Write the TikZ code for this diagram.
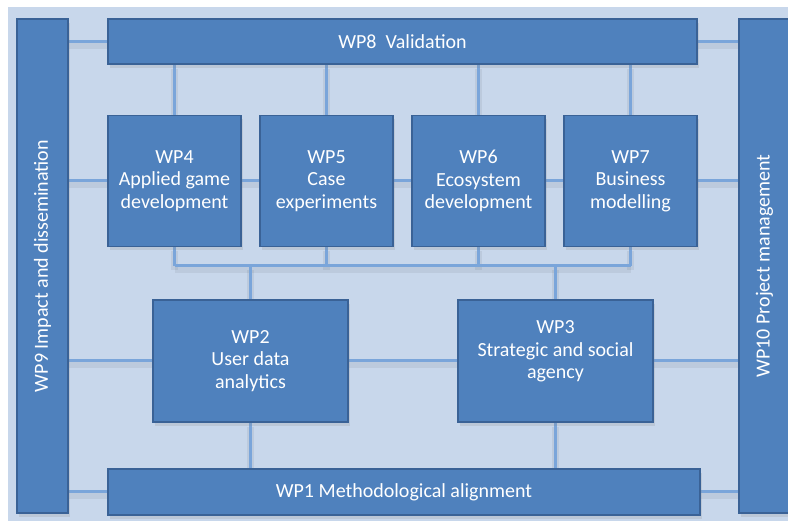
\documentclass[tikz,border=0pt]{standalone}
\usepackage{fontspec}
\setmainfont{Carlito}
\usepackage{xcolor}
\usepackage{tikz}
\usetikzlibrary{shadows,backgrounds}

\definecolor{wpblue}{HTML}{4F81BD}
\definecolor{wpedge}{HTML}{3A6296}
\definecolor{wpline}{HTML}{7AA5DA}
\definecolor{wppanel}{HTML}{C8D7EB}

\begin{document}
\begin{tikzpicture}[x=1pt, y=-1pt, node distance=152pt,
	font=\fontsize{20}{22.5}\selectfont]

	\tikzstyle{wp}=[rectangle, draw=wpedge, line width=1.5pt, fill=wpblue, text=white,
		align=center, inner sep=0pt,
		drop shadow={shadow xshift=2pt, shadow yshift=-4pt, opacity=0.18}]
	\tikzstyle{link}=[draw=wpline, line width=3pt,
		preaction={draw=black, opacity=0.06, line width=7pt, transform canvas={yshift=-4pt}}]

	\useasboundingbox (0,0) rectangle (788,521);

	% side bars and the long bars
	\node[wp, minimum width=51pt, minimum height=494pt] (wp9) at (42.5,266)
		{\rotatebox{90}{WP9 Impact and dissemination}};
	\node[wp, minimum width=51pt, minimum height=494pt] (wp10) at (764.5,266)
		{\rotatebox{90}{WP10 Project management}};
	\node[wp, minimum width=589pt, minimum height=45pt] (wp8) at (402.5,41.5) {WP8\ \ Validation};
	\node[wp, minimum width=592pt, minimum height=46pt] (wp1) at (404,492) {WP1 Methodological alignment};

	% the four in the middle row
	\node[wp, minimum width=133pt, minimum height=131pt] (wp4) at (174.5,181) {WP4\\Applied game\\development};
	\node[wp, minimum width=133pt, minimum height=131pt] (wp5) [right of=wp4] {WP5\\Case\\experiments};
	\node[wp, minimum width=133pt, minimum height=131pt] (wp6) [right of=wp5] {WP6\\Ecosystem\\development};
	\node[wp, minimum width=133pt, minimum height=131pt] (wp7) [right of=wp6] {WP7\\Business\\modelling};

	% the two below
	\node[wp, minimum width=195pt, minimum height=122pt] (wp2) at (250.5,361) {WP2\\User data\\analytics};
	\node[wp, minimum width=195pt, minimum height=122pt] (wp3) [right of=wp2, node distance=305pt]
		{WP3\\Strategic and social\\agency\\\mbox{}};

	\coordinate (bus) at (402,266);

	\begin{scope}[on background layer]
		\fill[wppanel] (8,7) rectangle (800,530);

		% WP8 to the side bars
		\path[link] (wp9.east |- wp8.west) -- (wp8.west);
		\path[link] (wp8.east) -- (wp10.west |- wp8.east);
		% WP8 to WP4..WP7
		\foreach \n in {4,...,7}
			\path[link] (wp8.south -| wp\n.north) -- (wp\n.north);
		% row through WP4..WP7
		\path[link] (wp9.east |- wp4.east) -- (wp10.west |- wp4.west);

		% WP4..WP7 to the bus
		\foreach \n in {4,...,7}
			\path[link] (wp\n.south) -- (bus -| wp\n.south);
		\path[link] (bus -| wp4.south) -- (bus -| wp7.south);
		% bus to WP2 and WP3
		\path[link] (bus -| wp2.north) -- (wp2.north);
		\path[link] (bus -| wp3.north) -- (wp3.north);
		% row through WP2 and WP3
		\path[link] (wp9.east |- wp2.west) -- (wp10.west |- wp2.east);

		% WP2, WP3 to WP1
		\path[link] (wp2.south) -- (wp1.north -| wp2.south);
		\path[link] (wp3.south) -- (wp1.north -| wp3.south);
		% WP1 to the side bars
		\path[link] (wp9.east |- wp1.west) -- (wp1.west);
		\path[link] (wp1.east) -- (wp10.west |- wp1.east);
	\end{scope}

\end{tikzpicture}
\end{document}
